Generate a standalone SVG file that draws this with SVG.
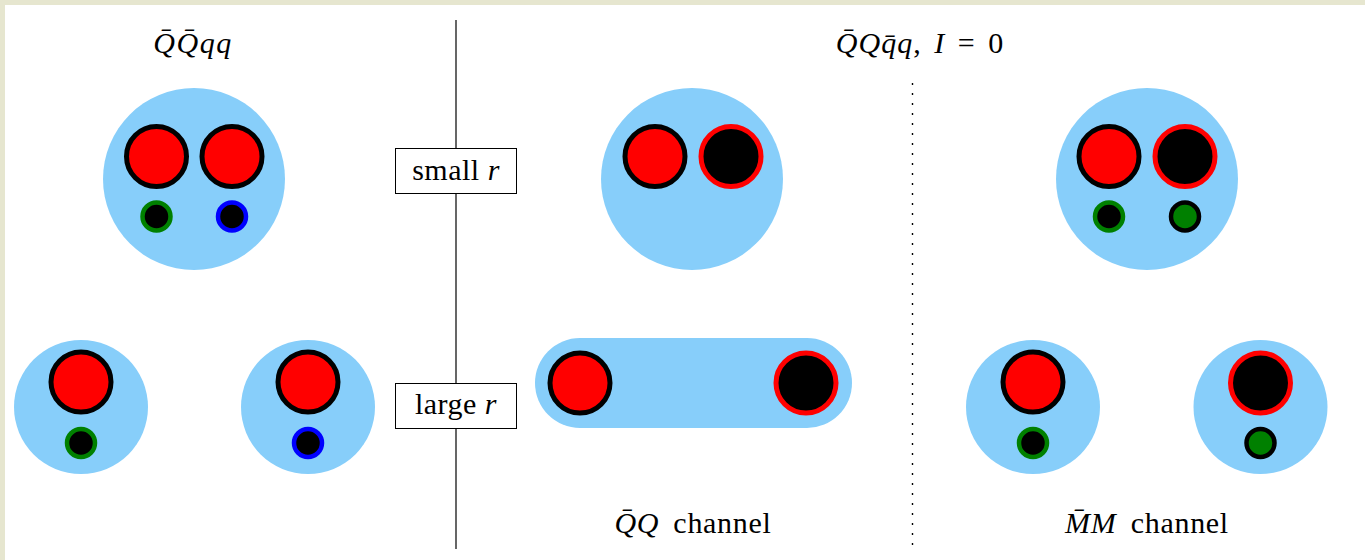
<svg xmlns="http://www.w3.org/2000/svg" width="1365" height="560" viewBox="0 0 1365 560">
<style>
.bg{fill:#87cefa}
.qr{fill:#ff0000;stroke:#000;stroke-width:5}
.qb{fill:#000;stroke:#ff0000;stroke-width:5}
.sg{fill:#000;stroke:#008000;stroke-width:4.5}
.sb{fill:#000;stroke:#0000ff;stroke-width:4.5}
.gs{fill:#008000;stroke:#000;stroke-width:4.5}
.t{font-family:'Liberation Serif','Times New Roman','DejaVu Serif',serif;font-size:30px;fill:#000}
.i{font-style:italic}
.box{fill:#fff;stroke:#000;stroke-width:1}
</style>
<rect x="0" y="0" width="1365" height="560" fill="#e6e6cf"/>
<rect x="5" y="5" width="1360" height="555" fill="#fff"/>
<g id="connectors">
<line x1="456" y1="20" x2="456" y2="549" stroke="#000" stroke-width="1.2"/>
<line x1="912.5" y1="83" x2="912.5" y2="550" stroke="#000" stroke-width="1.4" stroke-dasharray="2 8"/>
</g>
<g id="title-left"><text class="t i" x="193" y="53" text-anchor="middle" letter-spacing="1.5">Q̄Q̄qq</text></g>
<g id="title-right"><text class="t" x="920" y="53" text-anchor="middle" letter-spacing="1"><tspan class="i">Q̄Qq̄q</tspan>, <tspan class="i" dx="4">I</tspan><tspan dx="4"> = </tspan><tspan dx="4">0</tspan></text></g>
<g id="label-small"><rect class="box" x="395.5" y="148.5" width="121" height="45"/><text class="t" x="456" y="180" text-anchor="middle" letter-spacing="0.5">small <tspan class="i">r</tspan></text></g>
<g id="label-large"><rect class="box" x="395.5" y="383.5" width="121" height="45"/><text class="t" x="456" y="414" text-anchor="middle" letter-spacing="0.5">large <tspan class="i">r</tspan></text></g>
<g id="tetra-small">
<circle class="bg" cx="194" cy="179" r="91"/>
<circle class="qr" cx="156.5" cy="156.5" r="30"/>
<circle class="qr" cx="232" cy="156.5" r="30"/>
<circle class="sg" cx="156.5" cy="216.5" r="14"/>
<circle class="sb" cx="232" cy="216.5" r="14"/>
</g>
<g id="meson-left-1">
<circle class="bg" cx="81" cy="407" r="67"/>
<circle class="qr" cx="81" cy="382" r="30"/>
<circle class="sg" cx="81" cy="443" r="14"/>
</g>
<g id="meson-left-2">
<circle class="bg" cx="308" cy="407" r="67"/>
<circle class="qr" cx="308" cy="382" r="30"/>
<circle class="sb" cx="308" cy="443" r="14"/>
</g>
<g id="qq-small">
<circle class="bg" cx="692" cy="179" r="91"/>
<circle class="qr" cx="655" cy="156.5" r="30"/>
<circle class="qb" cx="731" cy="156.5" r="30"/>
</g>
<g id="qq-large">
<rect class="bg" x="535" y="338" width="317" height="90" rx="45"/>
<circle class="qr" cx="580" cy="383" r="30"/>
<circle class="qb" cx="806" cy="383" r="30"/>
</g>
<g id="mm-small">
<circle class="bg" cx="1147" cy="179" r="91"/>
<circle class="qr" cx="1109" cy="156.5" r="30"/>
<circle class="qb" cx="1185" cy="156.5" r="30"/>
<circle class="sg" cx="1109" cy="216.5" r="14"/>
<circle class="gs" cx="1185" cy="216.5" r="14"/>
</g>
<g id="meson-right-1">
<circle class="bg" cx="1033" cy="407" r="67"/>
<circle class="qr" cx="1033" cy="382" r="30"/>
<circle class="sg" cx="1033" cy="443" r="14"/>
</g>
<g id="meson-right-2">
<circle class="bg" cx="1260.5" cy="407" r="67"/>
<circle class="qb" cx="1260.5" cy="383" r="30"/>
<circle class="gs" cx="1260.5" cy="443" r="14"/>
</g>
<g id="label-qq"><text class="t" x="693" y="533" text-anchor="middle" letter-spacing="0.7"><tspan class="i">Q̄Q</tspan><tspan dx="6"> channel</tspan></text></g>
<g id="label-mm"><text class="t" x="1147" y="533" text-anchor="middle" letter-spacing="0.7"><tspan class="i">M̄M</tspan><tspan dx="6"> channel</tspan></text></g>
</svg>
